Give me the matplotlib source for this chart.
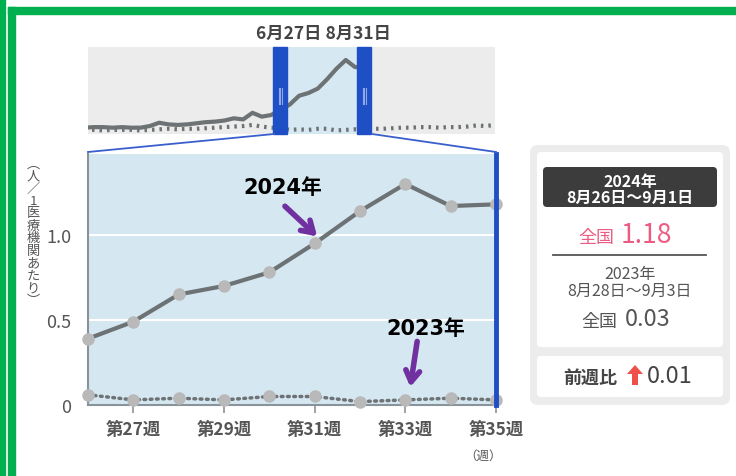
import numpy as np
import matplotlib
matplotlib.use("Agg")
import matplotlib.pyplot as plt
from matplotlib.patches import FancyBboxPatch, Rectangle, Polygon

plt.rcParams['font.family'] = ['Noto Sans CJK JP', 'DejaVu Sans']

# data (persons per medical institution)
weeks = np.arange(26, 36)
cases_2024 = [0.39, 0.49, 0.65, 0.70, 0.78, 0.95, 1.14, 1.30, 1.17, 1.18]
cases_2023 = [0.06, 0.03, 0.04, 0.03, 0.05, 0.05, 0.02, 0.03, 0.04, 0.03]

# overview (mini chart) values
mini_weeks_2024 = np.arange(5, 36)
mini_2024 = [0.07, 0.08, 0.08, 0.07, 0.08, 0.07, 0.07, 0.10, 0.16, 0.13,
             0.12, 0.13, 0.15, 0.17, 0.18, 0.20, 0.24, 0.22, 0.34, 0.27,
             0.30] + cases_2024
mini_weeks_2023 = np.arange(5, 50)
mini_2023 = [0.03, 0.03, 0.02, 0.03, 0.03, 0.03, 0.02, 0.03, 0.04, 0.05,
             0.04, 0.05, 0.05, 0.06, 0.07, 0.08, 0.09, 0.10, 0.12, 0.09,
             0.07] + cases_2023 + [0.05, 0.05, 0.06, 0.07, 0.07, 0.08, 0.08,
                                   0.07, 0.08, 0.08, 0.09, 0.11, 0.10, 0.12]

tick_weeks = [27, 29, 31, 33, 35]
tick_labels = ["第27週", "第29週", "第31週", "第33週", "第35週"]
y_ticks = [0, 0.5, 1.0]
y_tick_labels = ["0", "0.5", "1.0"]

W, H = 736, 477
LINE = "#6d7275"
MARK = "#b9b9b9"
BLUE = "#1f4fc4"
LIGHT = "#d5e7f1"
PURPLE = "#7030a0"


def rect(l, t, r, b):
    return [l / W, 1 - b / H, (r - l) / W, (b - t) / H]


fig = plt.figure(figsize=(W / 100, H / 100), dpi=100)

# ---- main chart ----
ax = fig.add_axes(rect(88, 155, 496, 406))
ax.set_facecolor(LIGHT)
ax.set_xlim(26, 35)
ax.set_ylim(0, 1.476)
for v in y_ticks[1:]:
    ax.axhline(v, color="white", lw=1.5, zorder=1)
ax.plot(weeks, cases_2024, color=LINE, lw=3, marker="o", ms=8,
        mfc=MARK, mec=MARK, zorder=3, clip_on=False)
ax.plot(weeks, cases_2023, color=LINE, lw=2.5, ls=(0, (0.5, 1.3)),
        dash_capstyle="round", marker="o", ms=8, mfc=MARK, mec=MARK,
        zorder=3, clip_on=False)
ax.axvline(35, color=BLUE, lw=3.5, zorder=4, clip_on=False)
for s in ["top", "right"]:
    ax.spines[s].set_visible(False)
for s in ["left", "bottom"]:
    ax.spines[s].set_color("#8a9399")
    ax.spines[s].set_linewidth(1.5)
ax.set_xticks(tick_weeks)
ax.set_xticklabels(tick_labels, fontsize=12.5, color="#555555", fontweight="bold")
ax.set_yticks(y_ticks)
ax.set_yticklabels(y_tick_labels, fontsize=13, color="#555555")
ax.tick_params(axis="x", length=6, width=1.2, color="#8a9399", pad=5)
ax.tick_params(axis="y", length=0, pad=12)

# annotations
ax.text(30.3, 1.28, "2024年", fontsize=15, fontweight="bold", ha="center",
        va="center", color="black", family=["DejaVu Sans", "Noto Sans CJK JP"])
ax.annotate("", xy=(31.1, 0.98), xytext=(30.3, 1.18),
            arrowprops=dict(arrowstyle="->,head_length=0.8,head_width=0.5",
                            color=PURPLE, lw=4))
ax.text(33.45, 0.45, "2023年", fontsize=15, fontweight="bold", ha="center",
        va="center", color="black", family=["DejaVu Sans", "Noto Sans CJK JP"])
ax.annotate("", xy=(33.1, 0.09), xytext=(33.27, 0.39),
            arrowprops=dict(arrowstyle="->,head_length=0.8,head_width=0.5",
                            color=PURPLE, lw=4))

# ---- overview chart ----
mx = fig.add_axes(rect(88, 48, 495, 135))
mx.set_facecolor("#ececec")
mx.set_xlim(5.37, 49)
mx.set_ylim(-0.045, 1.536)
mx.axvspan(weeks[0], weeks[-1], color="#d6e8f2", lw=0, zorder=0)
mx.plot(mini_weeks_2024, mini_2024, color=LINE, lw=3, zorder=2)
mx.plot(mini_weeks_2023, mini_2023, color=LINE, lw=3,
        ls=(0, (0.6, 1.2)), zorder=2)
for w in (weeks[0], weeks[-1]):
    mx.add_patch(Rectangle((w - 0.75, -0.045), 1.5, 1.581, color=BLUE,
                           zorder=5, clip_on=False))
    for dx in (-0.2, 0, 0.2):
        mx.plot([w + dx, w + dx], [0.5, 0.8], color="#8fa8e8", lw=0.8, zorder=6)
mx.set_xticks([])
mx.set_yticks([])
for s in mx.spines.values():
    s.set_visible(False)

# ---- overlay in pixel coordinates ----
ov = fig.add_axes([0, 0, 1, 1], zorder=10)
ov.set_xlim(0, W)
ov.set_ylim(H, 0)
ov.axis("off")
ov.patch.set_alpha(0)

GREEN = "#00b050"
ov.add_patch(Rectangle((0, 0), 4.5, H, color=GREEN))
ov.add_patch(Rectangle((8, 8), 6.5, H - 8, color=GREEN))
ov.add_patch(Rectangle((8, 8), W - 8, 6.5, color=GREEN))

ov.text(323, 34, "6月27日 8月31日", fontsize=12.5, fontweight="bold",
        color="#444444", ha="center", va="center")

ov.plot([274, 88], [135, 153], color="#3a5fcd", lw=1.3)
ov.plot([372, 496], [135, 153], color="#3a5fcd", lw=1.3)

ylab = "︵人／1医療機関あたり︶"
for i, ch in enumerate(ylab):
    ov.text(33, 164 + i * 12.5, ch, fontsize=9.5, color="#555555",
            ha="center", va="center")
ov.text(483, 456, "（週）", fontsize=9, color="#555555", ha="center", va="center")

# right info panel
ov.add_patch(FancyBboxPatch((530, 146), 200, 260,
                            boxstyle="round,pad=0,rounding_size=8",
                            fc="#ececec", ec="none"))
ov.add_patch(FancyBboxPatch((537, 153), 186, 195,
                            boxstyle="round,pad=0,rounding_size=4",
                            fc="white", ec="none"))
ov.add_patch(FancyBboxPatch((537, 357), 186, 41,
                            boxstyle="round,pad=0,rounding_size=4",
                            fc="white", ec="none"))
ov.add_patch(FancyBboxPatch((543, 168), 174, 40,
                            boxstyle="round,pad=0,rounding_size=4",
                            fc="#3c3c3c", ec="none"))
ov.text(630, 182, "2024年", fontsize=11.5, fontweight="bold", color="white",
        ha="center", va="center")
ov.text(630, 198, "8月26日～9月1日", fontsize=11.5, fontweight="bold",
        color="white", ha="center", va="center")

PINK = "#ec5c82"
ov.text(614, 238, "全国", fontsize=13, color=PINK, ha="right", va="center")
ov.text(621, 236, "1.18", fontsize=19, color=PINK, ha="left", va="center")
ov.plot([553, 706], [256, 256], color="#555555", lw=1.3)
ov.text(630, 275, "2023年", fontsize=11.5, color="#555555",
        ha="center", va="center")
ov.text(630, 291, "8月28日～9月3日", fontsize=11.5, color="#555555",
        ha="center", va="center")
ov.text(617, 322, "全国", fontsize=13, color="#555555", ha="right", va="center")
ov.text(625, 320, "0.03", fontsize=17, color="#555555", ha="left", va="center")

ov.text(617, 378, "前週比", fontsize=13, fontweight="bold", color="#444444",
        ha="right", va="center")
ov.add_patch(Polygon([(635, 366), (627, 375), (632, 375), (632, 386),
                      (638, 386), (638, 375), (643, 375)],
                     closed=True, fc="#f0504a", ec="none"))
ov.text(647, 377, "0.01", fontsize=17, color="#444444", ha="left", va="center")

fig.savefig("out.png", dpi=100)
